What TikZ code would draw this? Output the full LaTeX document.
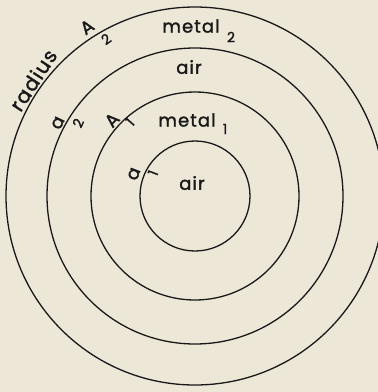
\documentclass[tikz,border=0pt]{standalone}
\usepackage{fontspec}
\setmainfont{Poppins}[LetterSpace=6, FakeBold=1.6]
\definecolor{paper}{RGB}{237,231,216}
\definecolor{ink}{RGB}{25,25,25}
\begin{document}
\begin{tikzpicture}[x=1pt, y=-1pt,
  ring/.style={draw=ink, line width=1.3pt},
  lbl/.style={inner sep=0pt, text=ink, font=\fontsize{18}{20}\selectfont},
  sub/.style={inner sep=0pt, text=ink, font=\fontsize{14}{16}\selectfont}]
\fill[paper] (0,0) rectangle (378,392);
\useasboundingbox (0,0) rectangle (378,392);
\coordinate (o) at (195,196);
\draw[ring] (o) circle[radius=55];
\draw[ring] (o) circle[radius=104];
\draw[ring] (o) circle[radius=148];
\draw[ring] (o) circle[radius=189];
\node[lbl] (metaltwo) at (191,26) {metal};
\node[sub] (metaltwosub) at (231,37) {2};
\node[lbl] (airout) at (189,67) {air};
\node[lbl] (metalone) at (187,120) {metal};
\node[sub] (metalonesub) at (225,129) {1};
\node[lbl] (airin) at (192,183) {air};
\node[lbl, rotate=57, font=\fontsize{20}{22}\selectfont] (radius) at (33,80) {radius};
\node[lbl, rotate=35] (Atwo) at (87,27) {A};
\node[sub, rotate=35] (Atwosub) at (106,39) {2};
\node[lbl, rotate=65] (atwo) at (58,123) {a};
\node[sub, rotate=65] (atwosub) at (78,123) {2};
\node[lbl, rotate=48] (Aone) at (112,120) {A};
\node[sub, rotate=48] (Aonesub) at (130,122) {1};
\node[lbl, rotate=69] (aone) at (134,174) {a};
\node[sub, rotate=69] (aonesub) at (153,173) {1};
\end{tikzpicture}
\end{document}
